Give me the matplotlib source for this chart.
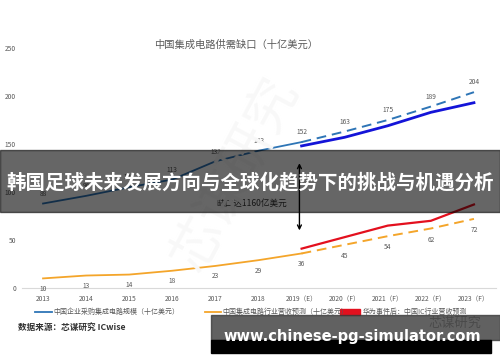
import matplotlib
matplotlib.use("Agg")
import matplotlib.pyplot as plt
from matplotlib.patches import Rectangle
from matplotlib.lines import Line2D

plt.rcParams['font.family'] = ['Noto Sans CJK SC', 'DejaVu Sans']

# data (十亿美元)
years = ['2013', '2014', '2015', '2016', '2017', '2018', '2019（E）',
         '2020（F）', '2021（F）', '2022（F）', '2023（F）']
purchase_hist = [88, 96, 105, 113, 132, 143, 152]        # 2013-2019
purchase_fcst = [152, 163, 175, 189, 204]                # 2019-2023
purchase_alt = [148, 157, 169, 183, 193]                 # bold blue, 2019-2023
revenue_hist = [10, 13, 14, 18, 23, 29, 36]              # 2013-2019
revenue_fcst = [36, 45, 54, 62, 72]                      # 2019-2023
revenue_huawei = [41, 53, 65, 70, 87]                    # 2019-2023
gap_top, gap_bottom = 130, 60

W, H = 500, 362
def fx(x):
    return x / W
def fy(y):
    return 1 - y / H

fig = plt.figure(figsize=(5, 3.62), dpi=100)
ax = fig.add_axes([0.043, 0.2044, 0.948, 0.663])

hx = list(range(len(purchase_hist)))
fxs = list(range(len(purchase_hist) - 1, len(years)))

ax.plot(hx, purchase_hist, color='#2e75b6', lw=1.3, zorder=3)
ax.plot(fxs, purchase_fcst, color='#2e75b6', lw=1.4, ls=(0, (5, 3)), zorder=3)
ax.plot(fxs, purchase_alt, color='#1414d8', lw=2.0, zorder=3)
ax.plot(hx, revenue_hist, color='#f4a52a', lw=1.3, zorder=3)
ax.plot(fxs, revenue_fcst, color='#f4a52a', lw=1.4, ls=(0, (5, 3)), zorder=3)
ax.plot(fxs, revenue_huawei, color='#e3101e', lw=1.6, zorder=3)

lab = dict(fontsize=4.8, color='#595959', ha='center', va='center')
for x, v in zip(hx, purchase_hist):
    ax.annotate(str(v), (x, v), xytext=(0, 7), textcoords='offset points', **lab)
for x, v in zip(fxs[1:], purchase_fcst[1:]):
    ax.annotate(str(v), (x, v), xytext=(0, 7), textcoords='offset points', **lab)
for x, v in zip(hx, revenue_hist):
    ax.annotate(str(v), (x, v), xytext=(0, -7.5), textcoords='offset points', **lab)
for x, v in zip(fxs[1:], revenue_fcst[1:]):
    ax.annotate(str(v), (x, v), xytext=(0, -8), textcoords='offset points', **lab)

ax.annotate('', xy=(5.95, gap_top), xytext=(5.95, gap_bottom),
            arrowprops=dict(arrowstyle='<->', color='black', lw=1.0,
                            mutation_scale=7, shrinkA=0, shrinkB=0), zorder=4)
ax.text(4.85, 88, '缺口达1160亿美元', fontsize=6.2, color='#333333',
        ha='center', va='center', zorder=4)

ax.set_xlim(-0.5, 10.5)
ax.set_ylim(0, 250)
ax.set_xticks(range(len(years)))
ax.set_xticklabels(years, fontsize=4.8, color='#595959')
ax.set_yticks([0, 50, 100, 150, 200, 250])
ax.set_yticklabels(['0', '50', '100', '150', '200', '250'], fontsize=4.8, color='#595959')
ax.tick_params(length=0)
ax.tick_params(axis='x', pad=5)
ax.tick_params(axis='y', pad=4)
for s in ['top', 'right', 'left']:
    ax.spines[s].set_visible(False)
ax.spines['bottom'].set_color('#d9d9d9')
ax.spines['bottom'].set_linewidth(0.8)
ax.patch.set_alpha(0)

# faint watermark
fig.text(fx(235), fy(175), '芯谋研究', fontsize=38, color='#f8f8f8', rotation=62,
         ha='center', va='center', zorder=0)

fig.text(fx(236), fy(45), '中国集成电路供需缺口（十亿美元）', fontsize=7.4,
         color='#595959', ha='center', va='center')

# legend
leg_y = fy(312)
fig.add_artist(Line2D([fx(35), fx(52)], [leg_y, leg_y], color='#2e75b6', lw=1.3))
fig.text(fx(53), leg_y, '中国企业采购集成电路规模（十亿美元）', fontsize=5,
         color='#595959', va='center')
fig.add_artist(Line2D([fx(205), fx(221)], [leg_y, leg_y], color='#f4a52a', lw=1.3))
fig.text(fx(222), leg_y, '中国集成电路行业营收预测（十亿美元）', fontsize=5,
         color='#595959', va='center')
fig.add_artist(Rectangle((fx(340), fy(315)), fx(20), 6 / H, color='#e3101e',
                         transform=fig.transFigure))
fig.text(fx(363), leg_y, '华为事件后：中国IC行业营收预测', fontsize=5,
         color='#595959', va='center')

fig.text(fx(18), fy(327), '数据来源：芯谋研究 ICwise', fontsize=6.2,
         color='#333333', va='center', fontweight='bold')
fig.text(fx(455), fy(323), '芯谋研究', fontsize=9.5, color='#8a8a8a',
         ha='center', va='center')

# overlays
fig.add_artist(Rectangle((0, fy(212)), 1, 62 / H, color='black', alpha=0.6,
                         transform=fig.transFigure, zorder=10))
fig.text(0.5, fy(182), '韩国足球未来发展方向与全球化趋势下的挑战与机遇分析',
         fontsize=14, color='white', fontweight='bold', ha='center', va='center',
         zorder=11)
fig.add_artist(Rectangle((fx(211), fy(340)), 1 - fx(211), 25 / H, color='#3a3a3a',
                         alpha=0.8, transform=fig.transFigure, zorder=10))
fig.add_artist(Rectangle((fx(211), fy(353)), fx(280), 13 / H, color='black',
                         transform=fig.transFigure, zorder=10))
fig.text(fx(352), fy(337), 'www.chinese-pg-simulator.com', fontsize=10.5,
         color='white', fontweight='bold', family='DejaVu Sans',
         ha='center', va='center', zorder=11)

fig.savefig('out.png', dpi=100)
